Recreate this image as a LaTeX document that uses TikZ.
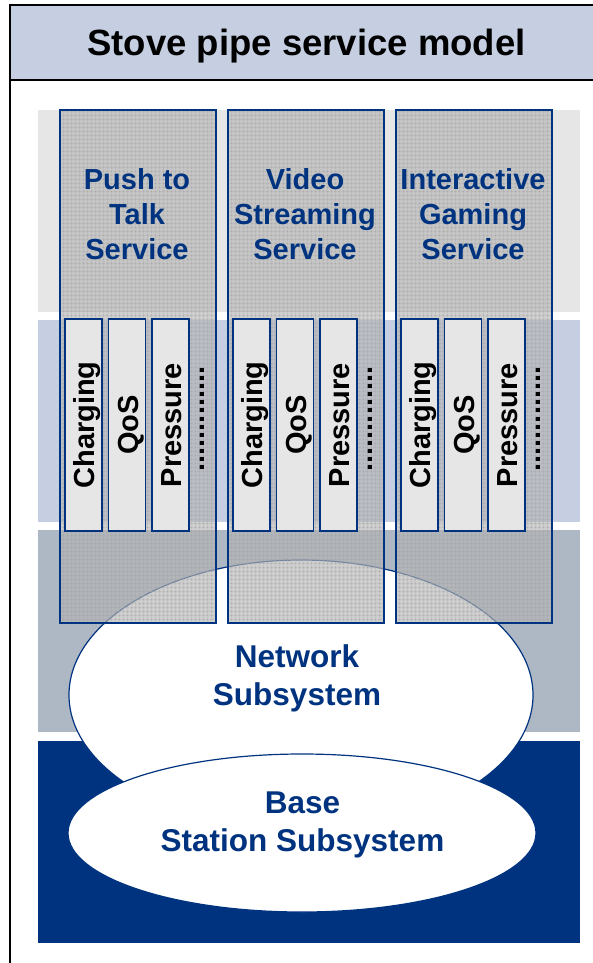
\documentclass[tikz,border=0pt]{standalone}
\usepackage{fontspec}
\setmainfont{Liberation Sans}
\usetikzlibrary{math}
\usetikzlibrary{patterns.meta}

\definecolor{bandblue}{HTML}{C5CFE1}
\definecolor{lightgrey}{HTML}{E6E6E6}
\definecolor{slategrey}{HTML}{AEB8C4}
\definecolor{pipegrey}{HTML}{B4B4B4}
\definecolor{meshgrey}{HTML}{A2A2A2}
\definecolor{navy}{HTML}{00337F}

\tikzset{
  titlefont/.style={font=\fontsize{36.5}{40}\selectfont\bfseries},
  servicelabel/.style={align=center, text=navy, font=\fontsize{29}{35}\selectfont\bfseries},
  syslabel/.style={align=center, text=navy, font=\fontsize{31.5}{38}\selectfont\bfseries},
  sublabel/.style={rotate=90, anchor=base, font=\fontsize{29}{30}\selectfont\bfseries},
  dotlabel/.style={rotate=90, font=\fontsize{29}{30}\selectfont\bfseries},
  subbox/.style={draw=navy, fill=lightgrey},
}

\begin{document}
\begin{tikzpicture}[x=1pt,y=-1pt,line width=1.4pt]

  \tikzmath{
    \pipewidth  = 156;  % width of one stove pipe
    \pipestep   = 168;  % distance between left edges of the pipes
    \pipetop    = 110;  % top edge of the pipes
    \pipebottom = 623;  % bottom edge of the pipes
    \boxwidth   = 37;   % width of the function boxes
    \boxstep    = 43.5; % distance between function boxes
    \boxtop     = 319;  % top edge of the function boxes
    \boxbottom  = 531;  % bottom edge of the function boxes
  }

  \clip (0,0) rectangle (593,963);

  % frame and title
  \draw (10,5) rectangle (620,990);
  \filldraw[fill=bandblue] (10,5) rectangle (620,80);
  \node[titlefont, anchor=base] (title) at (306.5,56) {Stove pipe service model};

  % background layers
  \fill[lightgrey] (38,110) rectangle (580,312);
  \fill[bandblue]  (38,320) rectangle (580,522);
  \fill[slategrey] (38,530) rectangle (580,732);
  \fill[navy]      (38,741) rectangle (580,943);

  % network subsystem, lies below the pipes
  \coordinate (N) at (301,695);
  \filldraw[fill=white, draw=navy, line width=1.2pt] (N) ellipse [x radius=232, y radius=135];

  % the stove pipes with their function boxes
  \foreach \i/\nm/\txt in {0/ptt/{Push to\\Talk\\Service},
                           1/vid/{Video\\Streaming\\Service},
                           2/game/{Interactive\\Gaming\\Service}} {
    \pgfmathsetmacro\px{60+\pipestep*\i}
    \fill[pipegrey, fill opacity=0.65] (\px,\pipetop) rectangle (\px+\pipewidth,\pipebottom);
    \fill[pattern={Hatch[angle=0,distance=4pt,line width=0.3pt]}, pattern color=meshgrey]
      (\px,\pipetop) rectangle (\px+\pipewidth,\pipebottom);
    \draw[navy] (\px,\pipetop) rectangle (\px+\pipewidth,\pipebottom);
    \node[servicelabel] (\nm-title) at (\px+77,214) {\txt};

    \foreach \j/\lbl in {0/Charging, 1/QoS, 2/Pressure} {
      \pgfmathsetmacro\bx{\px+5+\boxstep*\j}
      \draw[subbox] (\bx,\boxtop) rectangle (\bx+\boxwidth,\boxbottom);
      \node[sublabel] (\nm-\j) at (\bx+29.5,425) {\lbl};
    }
    \node[dotlabel] (\nm-dots) at (\px+142,419) {.............};
  }

  % base station subsystem
  \coordinate (B) at (302,833);
  \filldraw[fill=white, draw=navy, line width=1.2pt] (B) ellipse [x radius=234, y radius=79];

  \node[syslabel] (network) at (297,678) {Network\\Subsystem};
  \node[syslabel] (base) at (302.5,824.5) {Base\\Station Subsystem};

\end{tikzpicture}
\end{document}
